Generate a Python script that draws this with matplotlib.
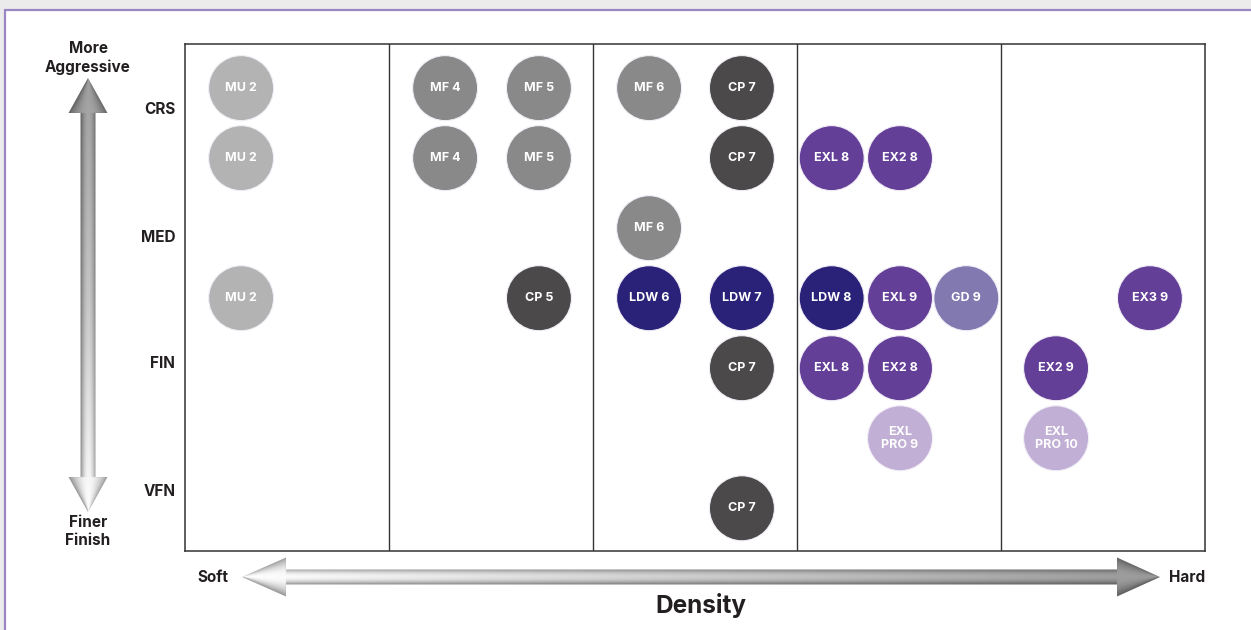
import numpy as np
import matplotlib
matplotlib.use("Agg")
import matplotlib.pyplot as plt
from matplotlib.patches import Polygon, Rectangle

plt.rcParams['font.family'] = ['Inter', 'DejaVu Sans']

# Abrasiveness rows (top = coarse) and their labels
row_labels = ['CRS', 'MED', 'FIN', 'VFN']
row_label_pos = [0.29, 2.11, 3.91, 5.74]

# Products: label, density position (column units), row index, family
bubble_labels = [
    'MU 2', 'MF 4', 'MF 5', 'MF 6', 'CP 7',
    'MU 2', 'MF 4', 'MF 5', 'CP 7', 'EXL 8', 'EX2 8',
    'MF 6',
    'MU 2', 'CP 5', 'LDW 6', 'LDW 7', 'LDW 8', 'EXL 9', 'GD 9', 'EX3 9',
    'CP 7', 'EXL 8', 'EX2 8', 'EX2 9',
    'EXL\nPRO 9', 'EXL\nPRO 10',
    'CP 7',
]
bubble_x = [
    0.275, 1.275, 1.735, 2.275, 2.73,
    0.275, 1.275, 1.735, 2.73, 3.17, 3.505,
    2.275,
    0.275, 1.735, 2.275, 2.73, 3.17, 3.505, 3.83, 4.73,
    2.73, 3.17, 3.505, 4.27,
    3.505, 4.27,
    2.73,
]
bubble_row = [
    0, 0, 0, 0, 0,
    1, 1, 1, 1, 1, 1,
    2,
    3, 3, 3, 3, 3, 3, 3, 3,
    4, 4, 4, 4,
    5, 5,
    6,
]
bubble_family = [
    'MU', 'MF', 'MF', 'MF', 'CP',
    'MU', 'MF', 'MF', 'CP', 'EX', 'EX',
    'MF',
    'MU', 'CP', 'LDW', 'LDW', 'LDW', 'EX', 'GD', 'EX',
    'CP', 'EX', 'EX', 'EX',
    'PRO', 'PRO',
    'CP',
]

family_colors = {
    'MU': '#b3b3b3', 'MF': '#898989', 'CP': '#4b4949', 'LDW': '#2a2279',
    'EX': '#643f97', 'GD': '#8179b0', 'PRO': '#c1afd6',
}

W, H = 1251, 630
fig = plt.figure(figsize=(W / 100, H / 100), dpi=100)

# Background layer in pixel coordinates
bg = fig.add_axes([0, 0, 1, 1], zorder=0)
bg.set_xlim(0, W)
bg.set_ylim(H, 0)
bg.axis('off')
bg.add_patch(Rectangle((0, 0), W, H, facecolor='#ebebeb', edgecolor='none'))
bg.add_patch(Rectangle((5, 10), W + 20, H + 20, facecolor='white',
                       edgecolor='#9b86c4', linewidth=1.6))


def shaded_arrow(ax, tail, tip, shaft_hw, head_hw, head_len, v_tail, v_tip):
    """Gradient-filled block arrow, lighter along its axis, darker at edges."""
    tail = np.asarray(tail, float)
    tip = np.asarray(tip, float)
    d = tip - tail
    L = np.hypot(*d)
    u = d / L
    n = np.array([-u[1], u[0]])
    base = tip - u * head_len
    pts = [tail + n * shaft_hw, base + n * shaft_hw, base + n * head_hw, tip,
           base - n * head_hw, base - n * shaft_hw, tail - n * shaft_hw]
    poly = Polygon(pts, closed=True, facecolor='none', edgecolor='none')
    ax.add_patch(poly)

    xs = [p[0] for p in pts]
    ys = [p[1] for p in pts]
    x0, x1 = min(xs) - 2, max(xs) + 2
    y0, y1 = min(ys) - 2, max(ys) + 2
    gx = np.linspace(x0, x1, int((x1 - x0) * 2))
    gy = np.linspace(y0, y1, int((y1 - y0) * 2))
    X, Y = np.meshgrid(gx, gy)
    rel_x = X - tail[0]
    rel_y = Y - tail[1]
    along = rel_x * u[0] + rel_y * u[1]
    across = rel_x * n[0] + rel_y * n[1]
    t = np.clip(along / L, 0, 1)
    base_val = v_tail + (v_tip - v_tail) * t
    hw = np.where(along < L - head_len, shaft_hw,
                  np.maximum(head_hw * (L - along) / head_len, 0.5))
    r = np.clip(np.abs(across) / hw, 0, 1)
    val = base_val * (1 - 0.38 * r ** 2)
    im = ax.imshow(val, extent=(x0, x1, y1, y0), cmap='gray', vmin=0, vmax=1,
                   interpolation='bilinear', aspect='auto', zorder=2)
    im.set_clip_path(poly)


# Vertical arrow: aggressive (top) to finer finish (bottom)
shaded_arrow(bg, (88, 300), (88, 78), 7.5, 19.5, 35, 0.78, 0.62)
shaded_arrow(bg, (88, 300), (88, 512), 7.5, 19.5, 35, 0.78, 1.0)
# Horizontal arrow: soft (left) to hard (right)
shaded_arrow(bg, (700, 577), (242, 577), 7.5, 19.5, 44, 0.8, 1.0)
shaded_arrow(bg, (700, 577), (1160, 577), 7.5, 19.5, 43, 0.8, 0.6)
bg.set_xlim(0, W)
bg.set_ylim(H, 0)

txt = dict(color='#231f20', fontweight='bold', ha='center', va='center')
bg.text(88, 58, 'More\nAggressive', fontsize=11, linespacing=1.3, **txt)
bg.text(88, 531.5, 'Finer\nFinish', fontsize=11, linespacing=1.3, **txt)
bg.text(213, 577, 'Soft', fontsize=11, **txt)
bg.text(1187, 577, 'Hard', fontsize=11, **txt)
bg.text(701, 606, 'Density', fontsize=17.5, **txt)

# Main chart grid
ax = fig.add_axes([185 / W, 1 - 551 / H, 1020 / W, 507 / H], zorder=1)
ax.set_facecolor('white')
ax.set_xlim(0, 5)
ax.set_ylim(6.61, -0.63)
for sp in ax.spines.values():
    sp.set_color('#333333')
    sp.set_linewidth(1.1)
for xv in range(1, 5):
    ax.axvline(xv, color='#333333', linewidth=1.0, zorder=1)
ax.set_xticks([])
ax.set_yticks(row_label_pos, row_labels)
ax.tick_params(axis='y', length=0, pad=7, labelsize=11, labelcolor='#231f20')
for lbl in ax.get_yticklabels():
    lbl.set_fontweight('bold')

colors = [family_colors[f] for f in bubble_family]
ax.scatter(bubble_x, bubble_row, s=2190, c=colors, edgecolors='#f2eef7',
           linewidths=0.8, zorder=3)
for lab, x, y in zip(bubble_labels, bubble_x, bubble_row):
    ax.text(x, y, lab, color='white', fontsize=9, fontweight='bold',
            ha='center', va='center', linespacing=1.15, zorder=4)

fig.savefig('out.png', dpi=100)
